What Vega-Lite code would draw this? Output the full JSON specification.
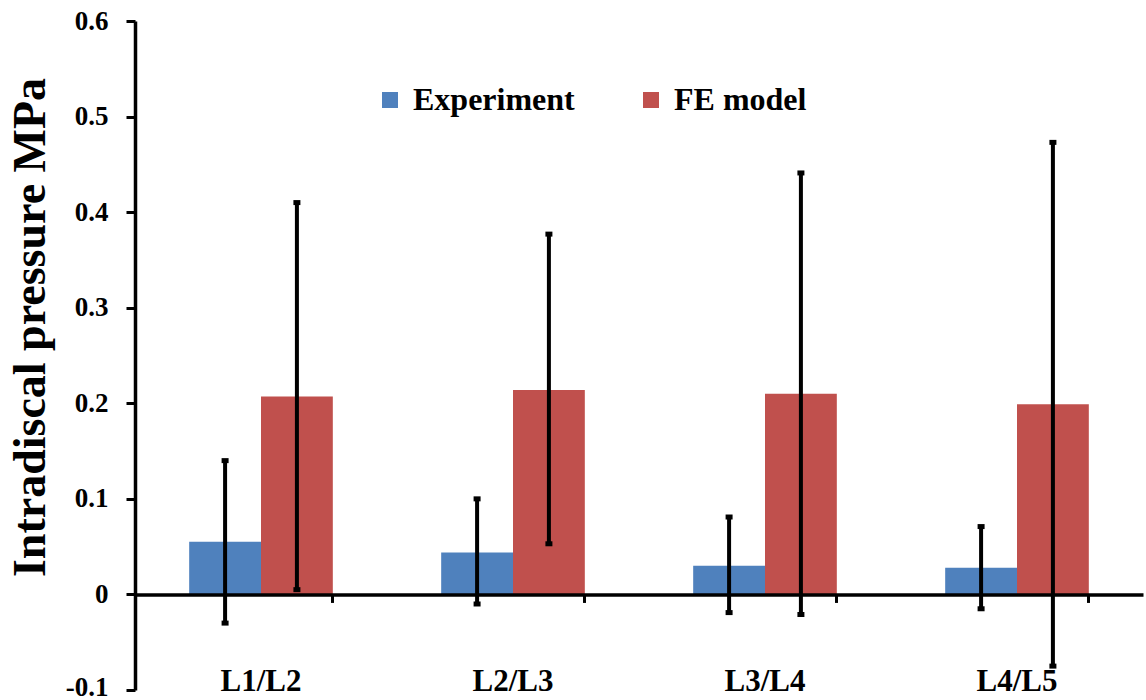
{
  "$schema": "https://vega.github.io/schema/vega-lite/v6.json",
  "width": 1008,
  "height": 669,
  "autosize": {"type": "none"},
  "padding": {"left": 135, "top": 21, "right": 3, "bottom": 10},
  "background": "white",
  "config": {"view": {"stroke": null}, "font": "Liberation Serif"},
  "data": {
    "values": [
      {"level": "L1/L2", "series": "Experiment", "value": 0.055, "lo": -0.03, "hi": 0.14},
      {"level": "L1/L2", "series": "FE model", "value": 0.207, "lo": 0.005, "hi": 0.41},
      {"level": "L2/L3", "series": "Experiment", "value": 0.044, "lo": -0.01, "hi": 0.10},
      {"level": "L2/L3", "series": "FE model", "value": 0.214, "lo": 0.053, "hi": 0.377},
      {"level": "L3/L4", "series": "Experiment", "value": 0.030, "lo": -0.019, "hi": 0.081},
      {"level": "L3/L4", "series": "FE model", "value": 0.210, "lo": -0.021, "hi": 0.441},
      {"level": "L4/L5", "series": "Experiment", "value": 0.028, "lo": -0.015, "hi": 0.071},
      {"level": "L4/L5", "series": "FE model", "value": 0.199, "lo": -0.075, "hi": 0.473}
    ]
  },
  "layer": [
    {
      "mark": {"type": "bar"},
      "encoding": {
        "x": {
          "field": "level", "type": "nominal", "sort": null,
          "scale": {"paddingInner": 0.43, "paddingOuter": 0.215},
          "axis": {"orient": "bottom", "title": null, "domain": false, "ticks": false, "labelPadding": -24, "labelFont": "Liberation Serif", "labelFontSize": 31, "labelFontWeight": "bold", "labelColor": "black", "labelAngle": 0}
        },
        "xOffset": {"field": "series", "type": "nominal", "sort": ["Experiment", "FE model"], "scale": {"paddingInner": 0, "paddingOuter": 0}},
        "y": {
          "field": "value", "type": "quantitative",
          "scale": {"domain": [-0.1, 0.6], "nice": false},
          "axis": {
            "values": [-0.1, 0, 0.1, 0.2, 0.3, 0.4, 0.5, 0.6],
            "labelExpr": "toString(round(datum.value*10)/10)",
            "labelOffset": {"condition": {"test": "datum.value < 0", "value": -3}, "value": 0},
            "grid": false, "domainColor": "black", "domainWidth": 3.5,
            "tickColor": "black", "tickWidth": 3, "tickSize": 9,
            "labelPadding": 18, "labelFontSize": 27, "labelFontWeight": "bold", "labelColor": "black", "labelFont": "Liberation Serif",
            "title": "Intradiscal pressure MPa", "titleFontSize": 46, "titleFontWeight": "bold", "titleFont": "Liberation Serif", "titleColor": "black",
            "titleX": -105, "titleY": 306, "titleAngle": -90, "titleAlign": "center", "titleBaseline": "middle"
          }
        },
        "color": {
          "field": "series", "type": "nominal",
          "scale": {"domain": ["Experiment", "FE model"], "range": ["#4F81BD", "#C0504D"]},
          "legend": {"orient": "none", "legendX": 239, "legendY": 63, "direction": "horizontal", "title": null, "symbolType": "square", "symbolSize": 256, "symbolStrokeWidth": 0, "labelFont": "Liberation Serif", "labelFontSize": 32, "labelFontWeight": "bold", "labelColor": "black", "labelOffset": 7, "labelLimit": 0, "columnPadding": 60, "padding": 0}
        }
      }
    },
    {
      "mark": {"type": "rule", "color": "black", "strokeWidth": 4},
      "encoding": {
        "x": {
          "field": "level", "type": "nominal", "sort": null,
          "axis": {"orient": "bottom", "offset": -95.57, "title": null, "labels": false, "domainColor": "black", "domainWidth": 3.5, "ticks": true, "tickColor": "black", "tickWidth": 3, "tickSize": 8, "bandPosition": 1, "zindex": 1}
        },
        "xOffset": {"field": "series", "type": "nominal", "sort": ["Experiment", "FE model"]},
        "y": {"field": "lo", "type": "quantitative", "title": "Intradiscal pressure MPa"},
        "y2": {"field": "hi"}
      }
    },
    {
      "mark": {"type": "tick", "color": "black", "thickness": 5, "size": 7, "opacity": 1},
      "encoding": {
        "x": {"field": "level", "type": "nominal", "sort": null, "axis": null},
        "xOffset": {"field": "series", "type": "nominal", "sort": ["Experiment", "FE model"]},
        "y": {"field": "lo", "type": "quantitative", "title": "Intradiscal pressure MPa"}
      }
    },
    {
      "mark": {"type": "tick", "color": "black", "thickness": 5, "size": 7, "opacity": 1},
      "encoding": {
        "x": {"field": "level", "type": "nominal", "sort": null, "axis": null},
        "xOffset": {"field": "series", "type": "nominal", "sort": ["Experiment", "FE model"]},
        "y": {"field": "hi", "type": "quantitative", "title": "Intradiscal pressure MPa"}
      }
    }
  ],
  "resolve": {"axis": {"x": "independent"}}
}
